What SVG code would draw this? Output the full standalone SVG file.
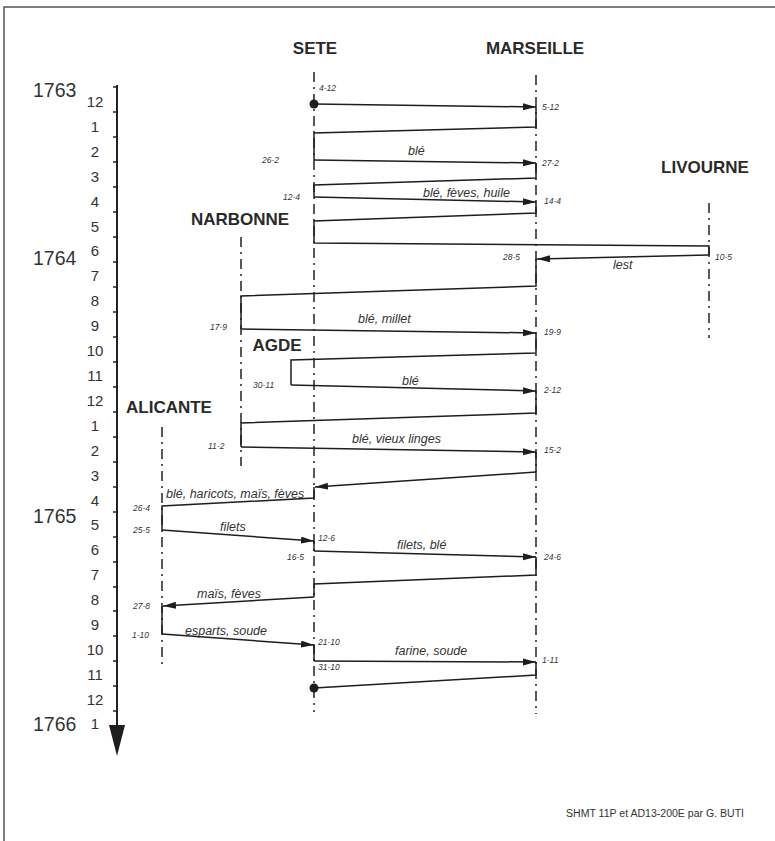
<svg xmlns="http://www.w3.org/2000/svg" width="775" height="841" viewBox="0 0 775 841">
<style>
.port{font-family:"Liberation Sans",Arial,sans-serif;font-weight:bold;font-size:17px;fill:#2a2a2a;text-anchor:middle}
.yr{font-family:"Liberation Sans",Arial,sans-serif;font-size:19.5px;fill:#333}
.mo{font-family:"Liberation Sans",Arial,sans-serif;font-size:15px;fill:#333;text-anchor:middle}
.dt{font-family:"Liberation Sans",Arial,sans-serif;font-style:italic;font-size:8.5px;fill:#333}
.cg{font-family:"Liberation Sans",Arial,sans-serif;font-style:italic;font-size:12.5px;fill:#333}
.life{stroke:#222;stroke-width:1.5;stroke-dasharray:10 5 2 5;fill:none}
.leg{stroke:#1e1e1e;stroke-width:1.5;fill:none}
.arr{marker-end:url(#ah)}
</style>
<defs>
<marker id="ah" markerUnits="userSpaceOnUse" markerWidth="14" markerHeight="8" refX="13" refY="3.5" orient="auto">
<path d="M0,0 L13,3.5 L0,7 z" fill="#1e1e1e"/>
</marker>
</defs>
<rect x="0" y="0" width="775" height="841" fill="#fff"/>
<rect x="4" y="7" width="790" height="850" fill="none" stroke="#555" stroke-width="1.5"/>

<g id="axis">
<line x1="117" y1="85" x2="117" y2="728" stroke="#222" stroke-width="2"/>
<path d="M109,725 L125,725 L117,756 z" fill="#1e1e1e"/>
<path d="M113,87H117M113,112H117M113,137H117M113,162H117M113,187H117M113,212H117M113,237H117M113,262H117M113,287H117M113,312H117M113,337H117M113,362H117M113,387H117M113,412H117M113,437H117M113,462H117M113,487H117M113,512H117M113,537H117M113,562H117M113,587H117M113,611H117M113,636H117M113,661H117M113,686H117M113,711H117" stroke="#222" stroke-width="1.5"/>
<text class="yr" x="33" y="97">1763</text>
<text class="yr" x="33" y="265">1764</text>
<text class="yr" x="33" y="523">1765</text>
<text class="yr" x="33" y="731">1766</text>
<g class="mo">
<text x="95" y="107">12</text>
<text x="95" y="132">1</text>
<text x="95" y="157">2</text>
<text x="95" y="182">3</text>
<text x="95" y="207">4</text>
<text x="95" y="232">5</text>
<text x="95" y="256">6</text>
<text x="95" y="281">7</text>
<text x="95" y="306">8</text>
<text x="95" y="331">9</text>
<text x="95" y="356">10</text>
<text x="95" y="381">11</text>
<text x="95" y="406">12</text>
<text x="95" y="431">1</text>
<text x="95" y="456">2</text>
<text x="95" y="481">3</text>
<text x="95" y="506">4</text>
<text x="95" y="530">5</text>
<text x="95" y="555">6</text>
<text x="95" y="580">7</text>
<text x="95" y="605">8</text>
<text x="95" y="630">9</text>
<text x="95" y="655">10</text>
<text x="95" y="680">11</text>
<text x="95" y="705">12</text>
<text x="95" y="729">1</text>
</g>
</g>

<g id="sete">
<text class="port" x="315" y="54">SETE</text>
<line class="life" x1="314" y1="72" x2="314" y2="712"/>
</g>
<g id="marseille">
<text class="port" x="535" y="54">MARSEILLE</text>
<line class="life" x1="536" y1="75" x2="536" y2="714"/>
</g>
<g id="livourne">
<text class="port" x="705" y="173">LIVOURNE</text>
<line class="life" x1="709" y1="203" x2="709" y2="338"/>
</g>
<g id="narbonne">
<text class="port" x="240" y="225">NARBONNE</text>
<line class="life" x1="241" y1="237" x2="241" y2="466"/>
</g>
<g id="agde">
<text class="port" x="277" y="351">AGDE</text>
</g>
<g id="alicante">
<text class="port" x="169" y="413">ALICANTE</text>
<line class="life" x1="162" y1="427" x2="162" y2="666"/>
</g>

<g id="connectors">
<circle cx="314" cy="104" r="4.5" fill="#1e1e1e"/>
<circle cx="314" cy="688" r="4.5" fill="#1e1e1e"/>
<path class="leg arr" d="M314,104 L536,107"/>
<path class="leg" d="M536,107 V127 L314,133 V160"/>
<path class="leg arr" d="M314,160 L536,163"/>
<path class="leg" d="M536,163 V178 L314,185 V197"/>
<path class="leg arr" d="M314,197 L536,202"/>
<path class="leg" d="M536,202 V213 L314,221 V243 L709,246 V255"/>
<path class="leg arr" d="M709,255 L537,259"/>
<path class="leg" d="M536,259 V286 L241,296 V329"/>
<path class="leg arr" d="M241,329 L536,333"/>
<path class="leg" d="M536,333 V353 L291,360 V385"/>
<path class="leg arr" d="M291,385 L536,391"/>
<path class="leg" d="M536,391 V413 L241,423 V447"/>
<path class="leg arr" d="M241,447 L536,452"/>
<path class="leg" d="M536,452 V472"/>
<path class="leg arr" d="M536,472 L315,487"/>
<path class="leg" d="M314,487 V498 L162,506 V530"/>
<path class="leg arr" d="M162,530 L314,541"/>
<path class="leg" d="M314,541 V551"/>
<path class="leg arr" d="M314,551 L536,557"/>
<path class="leg" d="M536,557 V575 L314,584 V597"/>
<path class="leg arr" d="M314,597 L163,606"/>
<path class="leg" d="M162,606 V634"/>
<path class="leg arr" d="M162,634 L314,645"/>
<path class="leg" d="M314,645 V661"/>
<path class="leg arr" d="M314,661 L536,662"/>
<path class="leg" d="M536,662 V675 L314,688"/>

<g class="dt">
<text x="319" y="91">4-12</text>
<text x="542" y="110">5-12</text>
<text x="262" y="163">26-2</text>
<text x="542" y="166">27-2</text>
<text x="283" y="200">12-4</text>
<text x="544" y="204">14-4</text>
<text x="503" y="260">28-5</text>
<text x="715" y="260">10-5</text>
<text x="210" y="330">17-9</text>
<text x="544" y="335">19-9</text>
<text x="253" y="388">30-11</text>
<text x="544" y="393">2-12</text>
<text x="208" y="449">11-2</text>
<text x="544" y="453">15-2</text>
<text x="133" y="511">26-4</text>
<text x="133" y="533">25-5</text>
<text x="318" y="541">12-6</text>
<text x="287" y="560">16-5</text>
<text x="544" y="560">24-6</text>
<text x="133" y="609">27-8</text>
<text x="132" y="638">1-10</text>
<text x="318" y="645">21-10</text>
<text x="318" y="670">31-10</text>
<text x="542" y="663">1-11</text>
</g>
<g class="cg">
<text x="408" y="155">blé</text>
<text x="423" y="197">blé, fèves, huile</text>
<text x="613" y="269">lest</text>
<text x="358" y="323">blé, millet</text>
<text x="402" y="385">blé</text>
<text x="352" y="443">blé, vieux linges</text>
<text x="166" y="498">blé, haricots, maïs, fèves</text>
<text x="220" y="531">filets</text>
<text x="397" y="549">filets, blé</text>
<text x="197" y="598">maïs, fèves</text>
<text x="185" y="635">esparts, soude</text>
<text x="395" y="655">farine, soude</text>
</g>
</g>

<text x="566" y="817" font-family="Liberation Sans, Arial, sans-serif" font-size="10" textLength="178" lengthAdjust="spacingAndGlyphs" fill="#333">SHMT 11P et AD13-200E par G. BUTI</text>
</svg>
